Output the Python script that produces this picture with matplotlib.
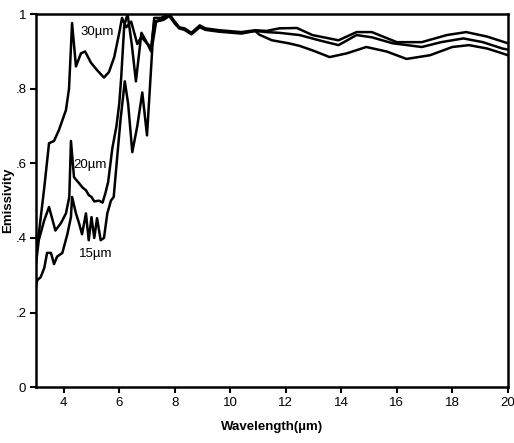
import matplotlib.pyplot as plt
import numpy as np

# Emissivity spectra for three coating thicknesses
wl_30 = [3.0, 3.1, 3.3, 3.47, 3.65, 3.83, 4.08, 4.19, 4.3, 4.44, 4.62, 4.77, 4.98, 5.2,
         5.45, 5.63, 5.82, 6.0, 6.1, 6.25, 6.43, 6.65, 6.8, 6.9, 7.15, 7.26, 7.5, 7.8,
         8.0, 8.16, 8.35, 8.6, 8.9, 9.1, 9.6, 10.4, 10.9, 11.3, 11.77, 12.4, 12.96,
         13.9, 14.55, 15.1, 16.0, 16.9, 17.8, 18.5, 19.25, 20.0]
em_30 = [0.375, 0.41, 0.536, 0.654, 0.66, 0.69, 0.743, 0.80, 0.976, 0.86, 0.895, 0.90,
         0.87, 0.85, 0.83, 0.845, 0.885, 0.95, 0.99, 0.965, 0.98, 0.92, 0.94, 0.93, 0.91,
         0.98, 0.985, 1.0, 0.98, 0.965, 0.962, 0.95, 0.97, 0.962, 0.957, 0.952, 0.957,
         0.955, 0.962, 0.963, 0.944, 0.93, 0.952, 0.952, 0.925, 0.925, 0.944, 0.952,
         0.94, 0.922]

wl_20 = [3.0, 3.1, 3.3, 3.47, 3.7, 3.9, 4.08, 4.2, 4.26, 4.37, 4.55, 4.68, 4.8, 4.9,
         5.0, 5.1, 5.27, 5.4, 5.5, 5.6, 5.75, 5.9, 6.0, 6.07, 6.18, 6.3, 6.45, 6.6, 6.8,
         6.95, 7.15, 7.26, 7.5, 7.8, 8.0, 8.16, 8.35, 8.6, 8.9, 9.1, 9.6, 10.4, 10.9,
         11.3, 11.77, 12.5, 13.2, 13.9, 14.55, 15.1, 15.85, 16.9, 17.6, 18.4, 19.1,
         19.8, 20.0]
em_20 = [0.33, 0.394, 0.448, 0.483, 0.42, 0.44, 0.466, 0.51, 0.66, 0.563, 0.547, 0.535,
         0.528, 0.515, 0.51, 0.498, 0.50, 0.495, 0.52, 0.55, 0.64, 0.70, 0.76, 0.83,
         0.97, 1.0, 0.92, 0.82, 0.95, 0.93, 0.90, 0.99, 0.99, 1.0, 0.978, 0.963, 0.96,
         0.948, 0.968, 0.96, 0.955, 0.95, 0.955, 0.952, 0.95, 0.944, 0.93, 0.917, 0.944,
         0.938, 0.922, 0.912, 0.925, 0.935, 0.925, 0.908, 0.905]

wl_15 = [3.0, 3.05, 3.17, 3.3, 3.4, 3.54, 3.65, 3.76, 3.95, 4.13, 4.26, 4.3, 4.44, 4.55,
         4.66, 4.8, 4.9, 5.0, 5.1, 5.2, 5.33, 5.45, 5.57, 5.7, 5.8, 5.93, 6.05, 6.2,
         6.32, 6.47, 6.65, 6.83, 7.0, 7.2, 7.33, 7.6, 7.8, 8.0, 8.16, 8.35, 8.6, 8.9,
         9.1, 9.6, 10.4, 10.9, 11.05, 11.5, 12.1, 12.5, 12.96, 13.58, 14.2, 14.9, 15.63,
         16.35, 17.2, 18.0, 18.6, 19.25, 19.8, 20.0]
em_15 = [0.27, 0.287, 0.295, 0.32, 0.36, 0.36, 0.33, 0.35, 0.36, 0.41, 0.456, 0.51,
         0.466, 0.44, 0.41, 0.466, 0.394, 0.456, 0.40, 0.453, 0.394, 0.40, 0.466, 0.50,
         0.51, 0.62, 0.72, 0.82, 0.76, 0.63, 0.70, 0.79, 0.675, 0.92, 0.98, 0.985, 0.995,
         0.975, 0.962, 0.958, 0.946, 0.965, 0.958, 0.953, 0.948, 0.955, 0.945, 0.93,
         0.922, 0.915, 0.903, 0.885, 0.895, 0.912, 0.90, 0.88, 0.89, 0.912, 0.917, 0.908,
         0.895, 0.89]

curve_labels = ["30\u00b5m", "20\u00b5m", "15\u00b5m"]
label_pos = [(4.62, 0.952), (4.34, 0.596), (4.55, 0.357)]

xticks = [4, 6, 8, 10, 12, 14, 16, 18, 20]
yticks = [0, 0.2, 0.4, 0.6, 0.8, 1.0]
ytick_labels = ["0", ".2", ".4", ".6", ".8", "1"]

plt.rcParams['font.family'] = ['Liberation Sans', 'DejaVu Sans']

fig = plt.figure(figsize=(5.14, 4.43), dpi=100)
ax = fig.add_axes([0.070, 0.126, 0.918, 0.842])

for wl, em in [(wl_30, em_30), (wl_20, em_20), (wl_15, em_15)]:
    ax.plot(wl, em, color='black', lw=1.8)

for text, (x, y) in zip(curve_labels, label_pos):
    ax.text(x, y, text, fontsize=9.5, va='center', ha='left')

ax.set_xlim(3, 20)
ax.set_ylim(0, 1)
ax.set_xticks(xticks)
ax.set_yticks(yticks)
ax.set_yticklabels(ytick_labels)
ax.tick_params(direction='out', length=4, width=1.5, labelsize=9.5, pad=3)
for spine in ax.spines.values():
    spine.set_linewidth(1.8)

ax.set_xlabel("Wavelength(\u00b5m)", fontsize=9.5, fontweight='bold', labelpad=9)
ax.set_ylabel("Emissivity", fontsize=9.5, fontweight='bold', labelpad=1)

fig.savefig("out.png", dpi=100)
